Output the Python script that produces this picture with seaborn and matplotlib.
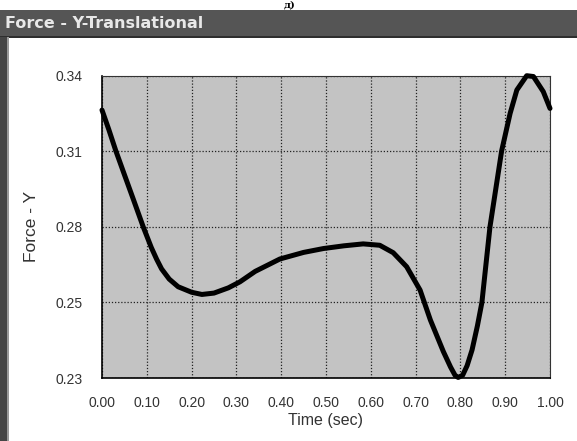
import numpy as np
import pandas as pd
import matplotlib
matplotlib.use("Agg")
import matplotlib.pyplot as plt
from matplotlib.patches import Rectangle
from matplotlib.ticker import MultipleLocator, FixedLocator
import seaborn as sns

# ---- data ----
time_s = [0.000, 0.015, 0.031, 0.050, 0.070, 0.092, 0.110, 0.122, 0.133, 0.150,
          0.170, 0.200, 0.223, 0.250, 0.282, 0.308, 0.342, 0.397, 0.450, 0.494,
          0.540, 0.583, 0.620, 0.650, 0.680, 0.710, 0.733, 0.762, 0.778, 0.788,
          0.795, 0.805, 0.815, 0.826, 0.838, 0.848, 0.866, 0.892, 0.911, 0.926,
          0.948, 0.963, 0.985, 1.000]
force_y = [0.3275, 0.3205, 0.3126, 0.3040, 0.2950, 0.2850, 0.2775, 0.2732, 0.2697, 0.2660,
           0.2632, 0.2612, 0.2604, 0.2609, 0.2628, 0.2650, 0.2688, 0.2733, 0.2757, 0.2771,
           0.2781, 0.2788, 0.2783, 0.2756, 0.2705, 0.2620, 0.2511, 0.2396, 0.2340, 0.2310,
           0.2302, 0.2310, 0.2345, 0.2402, 0.2490, 0.2575, 0.2850, 0.3126, 0.3263, 0.3348,
           0.3400, 0.3397, 0.3342, 0.3281]

x_ticks = [0.0, 0.1, 0.2, 0.3, 0.4, 0.5, 0.6, 0.7, 0.8, 0.9, 1.0]
x_tick_labels = ["0.00", "0.10", "0.20", "0.30", "0.40", "0.50", "0.60", "0.70", "0.80", "0.90", "1.00"]
y_ticks = [0.23, 0.2575, 0.285, 0.3125, 0.34]
y_tick_labels = ["0.23", "0.25", "0.28", "0.31", "0.34"]

title_text = "Force - Y-Translational"
x_label = "Time (sec)"
y_label = "Force - Y"
caption = "д)"

df = pd.DataFrame({"t": time_s, "f": force_y})

sns.set_style("white")
plt.rcParams["font.family"] = ["Liberation Sans", "DejaVu Sans"]

fig = plt.figure(figsize=(5.77, 4.41), dpi=100)
fig.patch.set_facecolor("white")

W, H = 577.0, 441.0
ax = fig.add_axes([102 / W, 1 - 378 / H, (550 - 102) / W, (378 - 75.7) / H])
ax.set_facecolor("#c3c3c3")

sns.lineplot(data=df, x="t", y="f", ax=ax, color="black", linewidth=3.6,
             clip_on=False, zorder=5)

ax.set_xlim(0, 1)
ax.set_ylim(0.23, 0.34)
ax.xaxis.set_major_locator(FixedLocator(x_ticks))
ax.set_xticklabels(x_tick_labels)
ax.xaxis.set_minor_locator(MultipleLocator(0.05))
ax.yaxis.set_major_locator(FixedLocator(y_ticks))
ax.set_yticklabels(y_tick_labels)
ax.yaxis.set_minor_locator(MultipleLocator(0.01375))

ax.grid(True, which="major", color="#222222", linestyle=(0, (1, 1.5)), linewidth=0.9)
ax.tick_params(axis="both", which="major", direction="out", length=7, width=1,
               color="black", labelsize=10, labelcolor="#333333")
ax.tick_params(axis="x", which="major", pad=6)
ax.tick_params(axis="y", which="major", pad=7)
ax.tick_params(axis="both", which="minor", direction="inout", length=5, width=1, color="black")

for side in ["left", "bottom"]:
    ax.spines[side].set_color("black")
    ax.spines[side].set_linewidth(1.2)
for side in ["top", "right"]:
    ax.spines[side].set_color("#333333")
    ax.spines[side].set_linewidth(0.8)

ax.set_xlabel(x_label, fontsize=11.5, color="#333333", labelpad=2)
ax.set_ylabel(y_label, fontsize=12.5, color="#333333", labelpad=12)

# window frame decorations
fig.patches.append(Rectangle((0, 1 - 37 / H), 1, 27 / H, transform=fig.transFigure,
                             facecolor="#555555", edgecolor="none", zorder=0))
fig.patches.append(Rectangle((0, 1 - 37.5 / H), 1, 1.5 / H, transform=fig.transFigure,
                             facecolor="#2e2e2e", edgecolor="none", zorder=0))
fig.patches.append(Rectangle((0, 0), 7 / W, 1 - 37 / H, transform=fig.transFigure,
                             facecolor="#454545", edgecolor="none", zorder=0))
fig.patches.append(Rectangle((7 / W, 0), 1.5 / W, 1 - 37 / H, transform=fig.transFigure,
                             facecolor="#999999", edgecolor="none", zorder=0))
fig.text(5 / W, 1 - 24 / H, title_text, color="#e8e8e8", fontsize=11.5,
         fontweight="bold", family=["DejaVu Sans"], va="center", ha="left")
fig.text(290 / W, 1 - 0.5 / H, caption, color="black", fontsize=7.5, fontweight="bold",
         family=["DejaVu Serif"], va="top", ha="center")

fig.savefig("out.png", dpi=100)
